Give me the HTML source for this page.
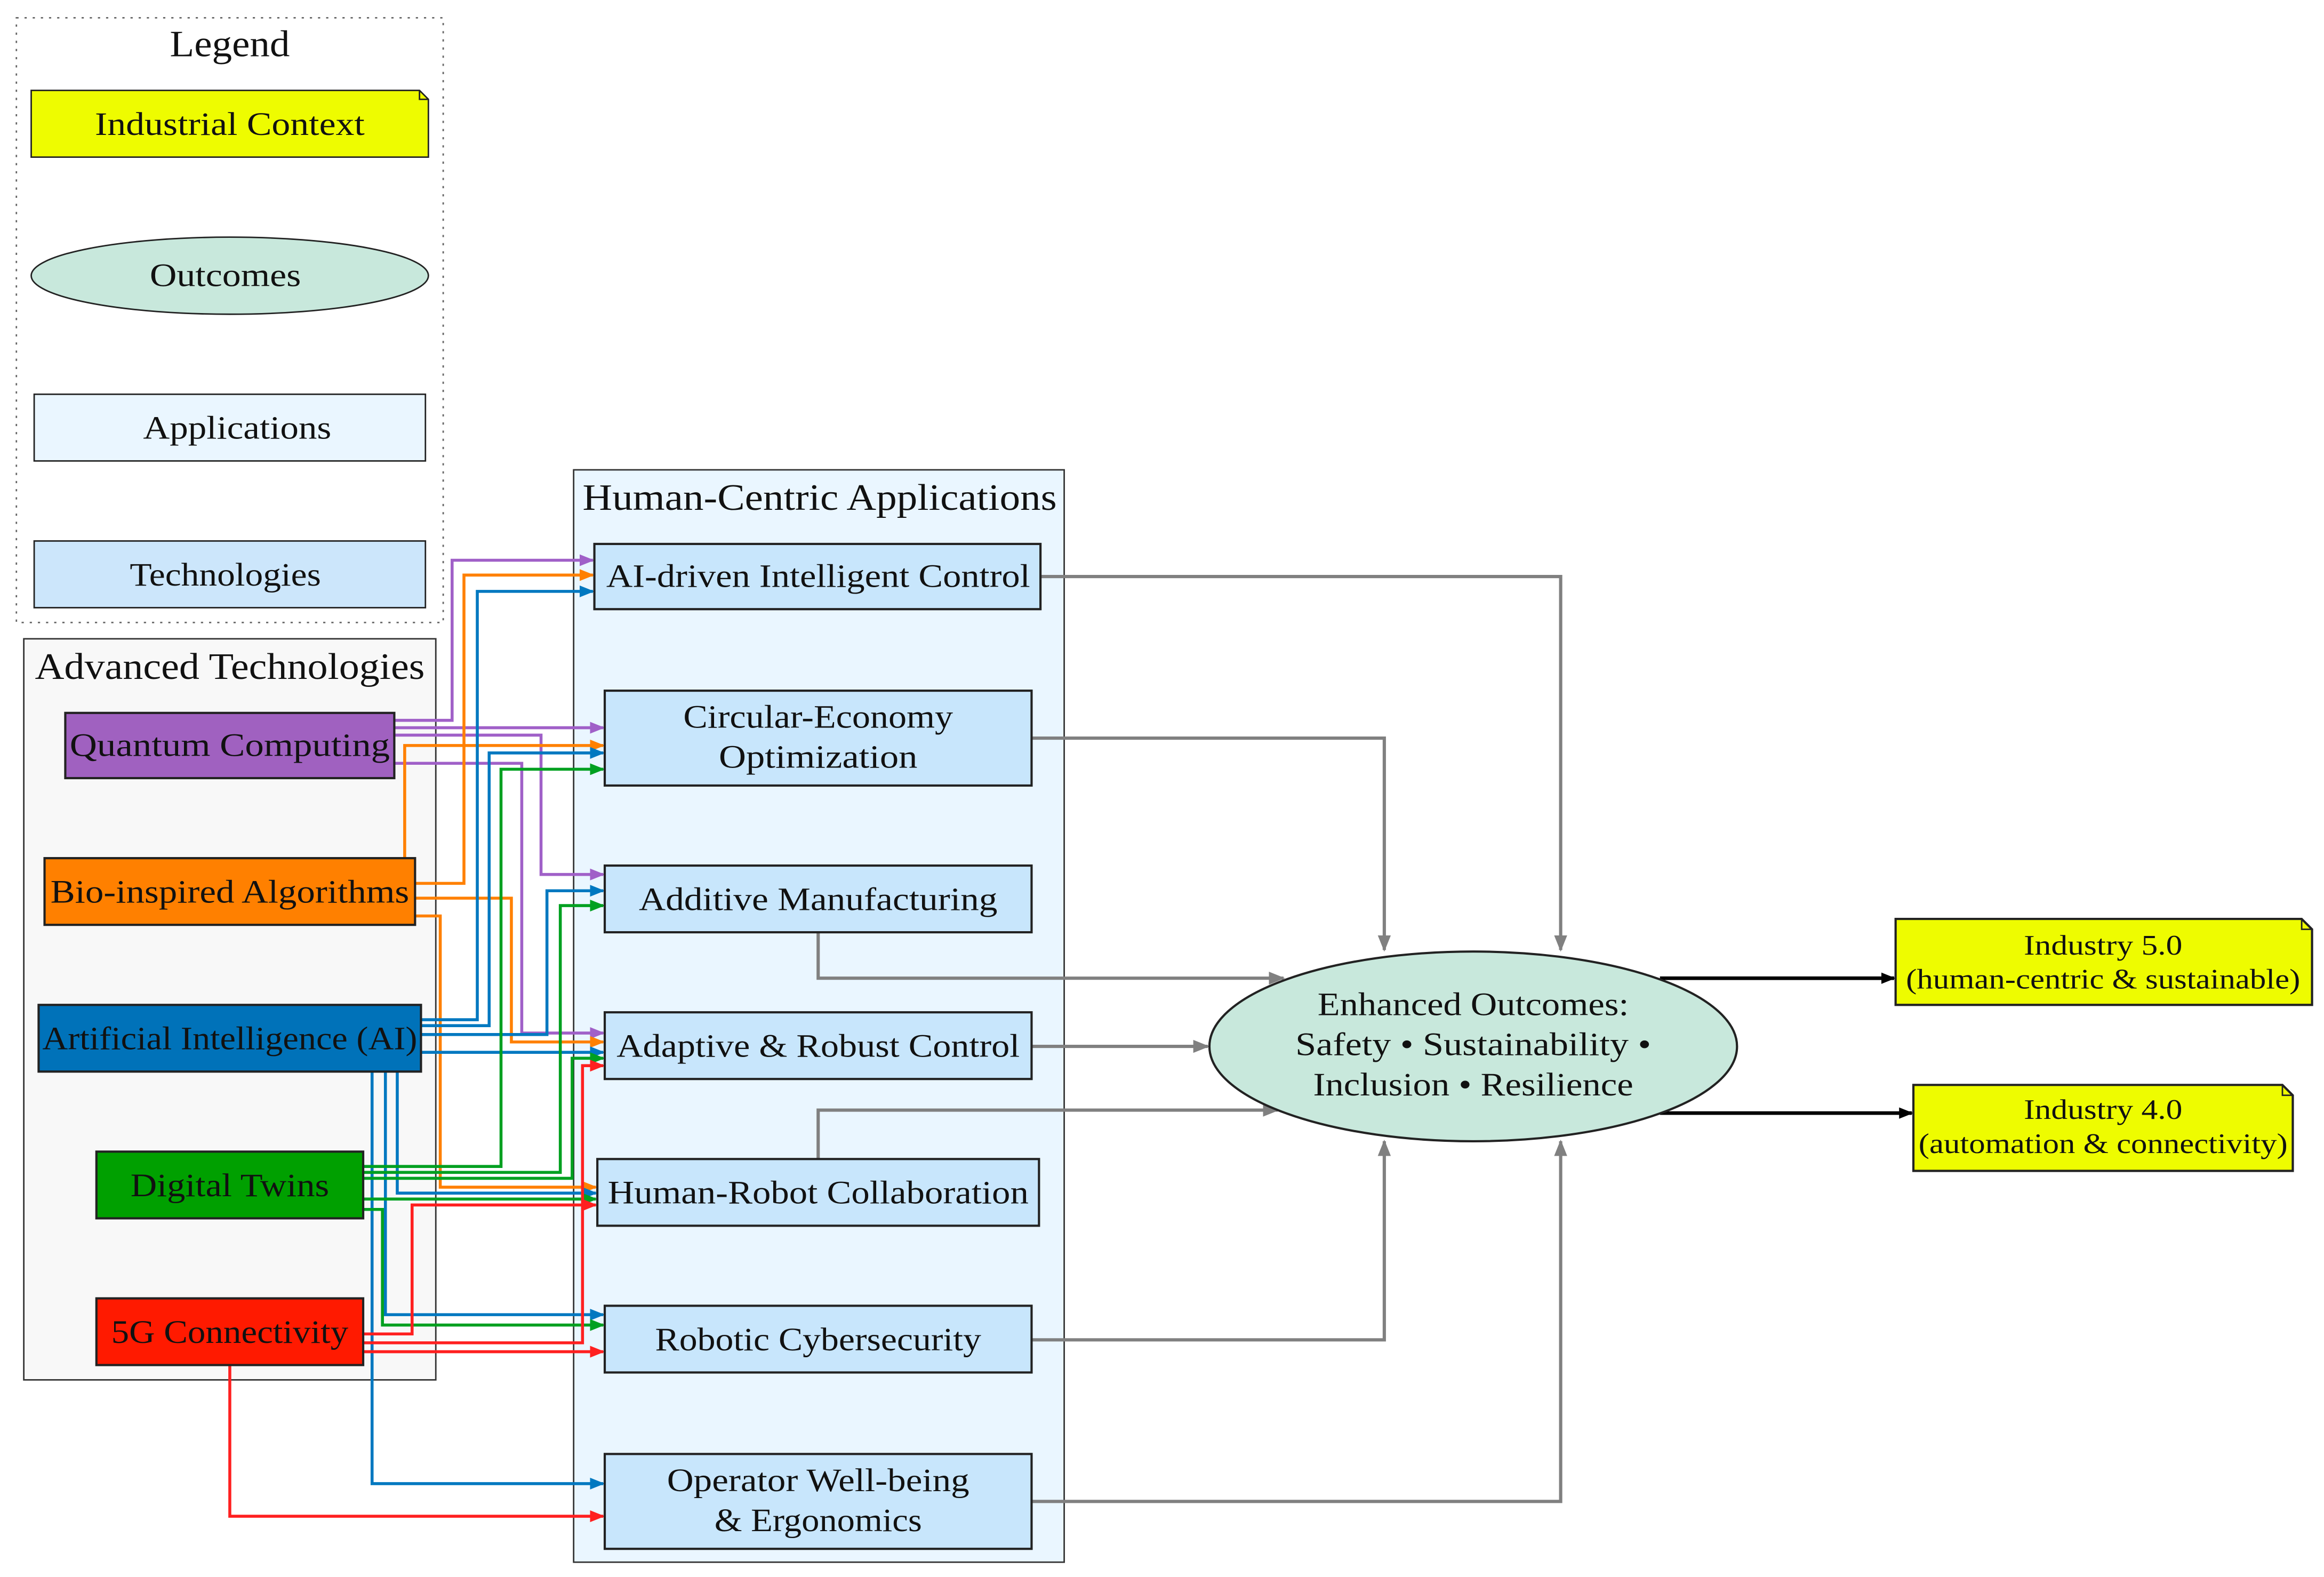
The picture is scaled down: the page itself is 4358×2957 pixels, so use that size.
<!DOCTYPE html>
<html><head><meta charset="utf-8"><style>html,body{margin:0;padding:0;background:#fff}svg{display:block}text{font-family:"Liberation Serif",serif;fill:#111}</style></head>
<body>
<svg xmlns="http://www.w3.org/2000/svg" width="4358" height="2957" viewBox="0 0 1568 1064">
<defs>
<marker id="ag" viewBox="0 0 10 10" refX="9" refY="5" markerWidth="5" markerHeight="5" orient="auto"><path d="M0,1 L10,5 L0,9z" fill="#808080"/></marker>
<marker id="ak" viewBox="0 0 10 10" refX="9" refY="5" markerWidth="4" markerHeight="4" orient="auto"><path d="M0,1 L10,5 L0,9z" fill="#000"/></marker>
<marker id="ap" viewBox="0 0 10 10" refX="9" refY="5" markerWidth="5" markerHeight="5" orient="auto"><path d="M0,1 L10,5 L0,9z" fill="#a060c8"/></marker>
<marker id="ao" viewBox="0 0 10 10" refX="9" refY="5" markerWidth="5" markerHeight="5" orient="auto"><path d="M0,1 L10,5 L0,9z" fill="#ff8000"/></marker>
<marker id="ab" viewBox="0 0 10 10" refX="9" refY="5" markerWidth="5" markerHeight="5" orient="auto"><path d="M0,1 L10,5 L0,9z" fill="#0078c0"/></marker>
<marker id="agr" viewBox="0 0 10 10" refX="9" refY="5" markerWidth="5" markerHeight="5" orient="auto"><path d="M0,1 L10,5 L0,9z" fill="#00a020"/></marker>
<marker id="ar" viewBox="0 0 10 10" refX="9" refY="5" markerWidth="5" markerHeight="5" orient="auto"><path d="M0,1 L10,5 L0,9z" fill="#ff2020"/></marker>
</defs>
<!-- Legend -->
<rect x="11" y="12" width="288" height="408" fill="none" stroke="#666" stroke-dasharray="1.5,4"/>
<text x="155" y="38" font-size="25" text-anchor="middle" textLength="81" lengthAdjust="spacingAndGlyphs">Legend</text>
<path d="M21,61 H283 L289,67 V106 H21z" fill="#eefc00" stroke="#222"/>
<path d="M283,61 V67 H289" fill="none" stroke="#222"/>
<text x="155" y="91" font-size="22" text-anchor="middle" textLength="182" lengthAdjust="spacingAndGlyphs">Industrial Context</text>
<ellipse cx="155" cy="186" rx="134" ry="26" fill="#c8e8dc" stroke="#222"/>
<text x="152" y="193" font-size="22" text-anchor="middle" textLength="102" lengthAdjust="spacingAndGlyphs">Outcomes</text>
<rect x="23" y="266" width="264" height="45" fill="#eaf6ff" stroke="#222"/>
<text x="160" y="296" font-size="22" text-anchor="middle" textLength="127" lengthAdjust="spacingAndGlyphs">Applications</text>
<rect x="23" y="365" width="264" height="45" fill="#cce6fb" stroke="#222"/>
<text x="152" y="395" font-size="22" text-anchor="middle" textLength="129" lengthAdjust="spacingAndGlyphs">Technologies</text>
<!-- Clusters -->
<rect x="16" y="431" width="278" height="500" fill="#f8f8f8" stroke="#333"/>
<text x="155" y="458" font-size="25" text-anchor="middle" textLength="263" lengthAdjust="spacingAndGlyphs">Advanced Technologies</text>
<rect x="387" y="317" width="331" height="737" fill="#eaf6ff" stroke="#333"/>
<text x="553" y="344" font-size="25" text-anchor="middle" textLength="320" lengthAdjust="spacingAndGlyphs">Human-Centric Applications</text>
<!-- gray edges -->
<g fill="none" stroke="#808080" stroke-width="2.2">
<path d="M702,389 H1053 V641" marker-end="url(#ag)"/>
<path d="M696,498 H934 V641" marker-end="url(#ag)"/>
<path d="M552,629 V660 H866" marker-end="url(#ag)"/>
<path d="M696,706 H815" marker-end="url(#ag)"/>
<path d="M552,782 V749 H862" marker-end="url(#ag)"/>
<path d="M696,904 H934 V770" marker-end="url(#ag)"/>
<path d="M696,1013 H1053 V770" marker-end="url(#ag)"/>
</g>
<g fill="none" stroke="#000" stroke-width="2.4">
<path d="M1120,660 H1278" marker-end="url(#ak)"/>
<path d="M1120,751 H1290" marker-end="url(#ak)"/>
</g>
<!-- colored edges -->
<g fill="none" stroke-width="2">
<g stroke="#a060c8">
<path d="M266,486 H305 V378 H400" marker-end="url(#ap)"/>
<path d="M266,491 H407" marker-end="url(#ap)"/>
<path d="M266,496 H365 V590 H407" marker-end="url(#ap)"/>
<path d="M266,515 H352 V697 H407" marker-end="url(#ap)"/>
</g>
<g stroke="#ff8000">
<path d="M280,596 H313 V388 H400" marker-end="url(#ao)"/>
<path d="M273,579 V503 H407" marker-end="url(#ao)"/>
<path d="M280,606 H345 V703 H407" marker-end="url(#ao)"/>
<path d="M280,618 H297 V801 H402" marker-end="url(#ao)"/>
</g>
<g stroke="#0078c0">
<path d="M284,688 H322 V399 H400" marker-end="url(#ab)"/>
<path d="M284,692 H330 V508 H407" marker-end="url(#ab)"/>
<path d="M284,698 H369 V601 H407" marker-end="url(#ab)"/>
<path d="M284,710 H407" marker-end="url(#ab)"/>
<path d="M268,723 V805 H402" marker-end="url(#ab)"/>
<path d="M260,723 V887 H407" marker-end="url(#ab)"/>
<path d="M251,723 V1001 H407" marker-end="url(#ab)"/>
</g>
<g stroke="#00a020">
<path d="M245,787 H338 V519 H407" marker-end="url(#agr)"/>
<path d="M245,791 H378 V611 H407" marker-end="url(#agr)"/>
<path d="M245,795 H386 V714 H407" marker-end="url(#agr)"/>
<path d="M245,809 H402" marker-end="url(#agr)"/>
<path d="M245,816 H258 V894 H407" marker-end="url(#agr)"/>
</g>
<g stroke="#ff2020">
<path d="M245,900 H278 V813 H402" marker-end="url(#ar)"/>
<path d="M245,906 H393 V719 H407" marker-end="url(#ar)"/>
<path d="M245,912 H407" marker-end="url(#ar)"/>
<path d="M155,921 V1023 H407" marker-end="url(#ar)"/>
</g>
</g>
<!-- tech nodes -->
<g stroke="#222" stroke-width="1.5">
<rect x="44" y="481" width="222" height="44" fill="#a061c0"/>
<rect x="30" y="579" width="250" height="45" fill="#ff8000"/>
<rect x="26" y="678" width="258" height="45" fill="#0072b9"/>
<rect x="65" y="777" width="180" height="45" fill="#00a000"/>
<rect x="65" y="876" width="180" height="45" fill="#ff1a00"/>
</g>
<g font-size="22" text-anchor="middle" lengthAdjust="spacingAndGlyphs">
<text x="155" y="510" textLength="216" lengthAdjust="spacingAndGlyphs">Quantum Computing</text>
<text x="155" y="609" textLength="242" lengthAdjust="spacingAndGlyphs">Bio-inspired Algorithms</text>
<text x="155" y="708" textLength="253" lengthAdjust="spacingAndGlyphs">Artificial Intelligence (AI)</text>
<text x="155" y="807" textLength="134" lengthAdjust="spacingAndGlyphs">Digital Twins</text>
<text x="155" y="906" textLength="160" lengthAdjust="spacingAndGlyphs">5G Connectivity</text>
</g>
<!-- app nodes -->
<g stroke="#222" stroke-width="1.5" fill="#c8e6fc">
<rect x="401" y="367" width="301" height="44"/>
<rect x="408" y="466" width="288" height="64"/>
<rect x="408" y="584" width="288" height="45"/>
<rect x="408" y="683" width="288" height="45"/>
<rect x="403" y="782" width="298" height="45"/>
<rect x="408" y="881" width="288" height="45"/>
<rect x="408" y="981" width="288" height="64"/>
</g>
<g font-size="22" text-anchor="middle">
<text x="552" y="396" textLength="286" lengthAdjust="spacingAndGlyphs">AI-driven Intelligent Control</text>
<text x="552" y="491" textLength="182" lengthAdjust="spacingAndGlyphs">Circular-Economy</text>
<text x="552" y="518" textLength="134" lengthAdjust="spacingAndGlyphs">Optimization</text>
<text x="552" y="614" textLength="242" lengthAdjust="spacingAndGlyphs">Additive Manufacturing</text>
<text x="552" y="713" textLength="272" lengthAdjust="spacingAndGlyphs">Adaptive &amp; Robust Control</text>
<text x="552" y="812" textLength="284" lengthAdjust="spacingAndGlyphs">Human-Robot Collaboration</text>
<text x="552" y="911" textLength="220" lengthAdjust="spacingAndGlyphs">Robotic Cybersecurity</text>
<text x="552" y="1006" textLength="204" lengthAdjust="spacingAndGlyphs">Operator Well-being</text>
<text x="552" y="1033" textLength="140" lengthAdjust="spacingAndGlyphs">&amp; Ergonomics</text>
</g>
<!-- outcome -->
<ellipse cx="994" cy="706" rx="178" ry="64" fill="#c8e8dc" stroke="#222" stroke-width="1.5"/>
<g font-size="22" text-anchor="middle">
<text x="994" y="685" textLength="210" lengthAdjust="spacingAndGlyphs">Enhanced Outcomes:</text>
<text x="994" y="712" textLength="240" lengthAdjust="spacingAndGlyphs">Safety • Sustainability •</text>
<text x="994" y="739" textLength="216" lengthAdjust="spacingAndGlyphs">Inclusion • Resilience</text>
</g>
<!-- industry notes -->
<path d="M1279,620 H1553 L1560,627 V678 H1279z" fill="#eefc00" stroke="#222" stroke-width="1.5"/>
<path d="M1553,620 V627 H1560" fill="none" stroke="#222"/>
<path d="M1291,732 H1540 L1547,739 V790 H1291z" fill="#eefc00" stroke="#222" stroke-width="1.5"/>
<path d="M1540,732 V739 H1547" fill="none" stroke="#222"/>
<g font-size="19" text-anchor="middle">
<text x="1419" y="644" textLength="107" lengthAdjust="spacingAndGlyphs">Industry 5.0</text>
<text x="1419" y="667" textLength="266" lengthAdjust="spacingAndGlyphs">(human-centric &amp; sustainable)</text>
<text x="1419" y="755" textLength="107" lengthAdjust="spacingAndGlyphs">Industry 4.0</text>
<text x="1419" y="778" textLength="249" lengthAdjust="spacingAndGlyphs">(automation &amp; connectivity)</text>
</g>
</svg>
</body></html>
